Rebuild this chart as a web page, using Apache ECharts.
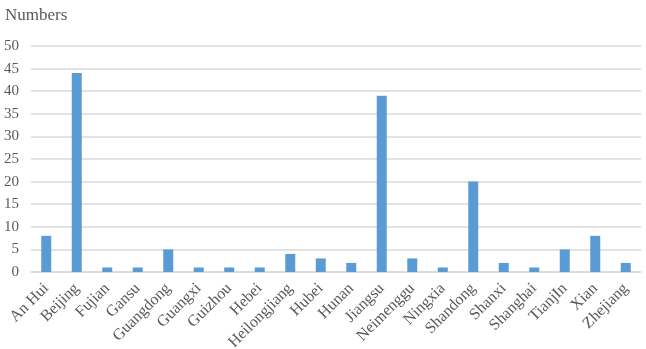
<!DOCTYPE html>
<html>
<head>
<meta charset="utf-8">
<script src="https://cdn.jsdelivr.net/npm/echarts@6/dist/echarts.min.js"></script>
<style>
html,body{margin:0;padding:0;background:#fff;}
#c{width:646px;height:349px;}
</style>
</head>
<body>
<div id="c"></div>
<script>
const categories = ["An Hui","Beijing","Fujian","Gansu","Guangdong","Guangxi","Guizhou","Hebei","Heilongjiang","Hubei","Hunan","Jiangsu","Neimenggu","Ningxia","Shandong","Shanxi","Shanghai","TianjIn","Xian","Zhejiang"];
const values = [8,44,1,1,5,1,1,1,4,3,2,39,3,1,20,2,1,5,8,2];
const yTicks = [0,5,10,15,20,25,30,35,40,45,50];

const chart = echarts.init(document.getElementById('c'), null, {renderer:'canvas'});
const font = '"Liberation Serif","Times New Roman",serif';
chart.setOption({
  animation:false,
  textStyle:{fontFamily:font},
  title:{text:'Numbers', left:0, top:2, textStyle:{fontFamily:font, fontSize:17, fontWeight:'normal', color:'#595959'}},
  grid:{left:31, right:5, top:46, bottom:77, containLabel:false, outerBoundsMode:'none'},
  xAxis:{
    type:'category', data:categories,
    axisLine:{lineStyle:{color:'#d9d9d9', width:1.5}},
    axisTick:{show:false},
    axisLabel:{rotate:45, interval:0, fontFamily:font, fontSize:16, color:'#595959', margin:14}
  },
  yAxis:{
    type:'value', min:yTicks[0], max:yTicks[yTicks.length-1], interval:5,
    axisLine:{show:false}, axisTick:{show:false},
    axisLabel:{fontFamily:font, fontSize:15, color:'#595959', margin:12},
    splitLine:{lineStyle:{color:'#d9d9d9', width:1.5}}
  },
  series:[{type:'bar', data:values, barWidth:10, itemStyle:{color:'#5b9bd5'}}]
});
</script>
</body>
</html>
